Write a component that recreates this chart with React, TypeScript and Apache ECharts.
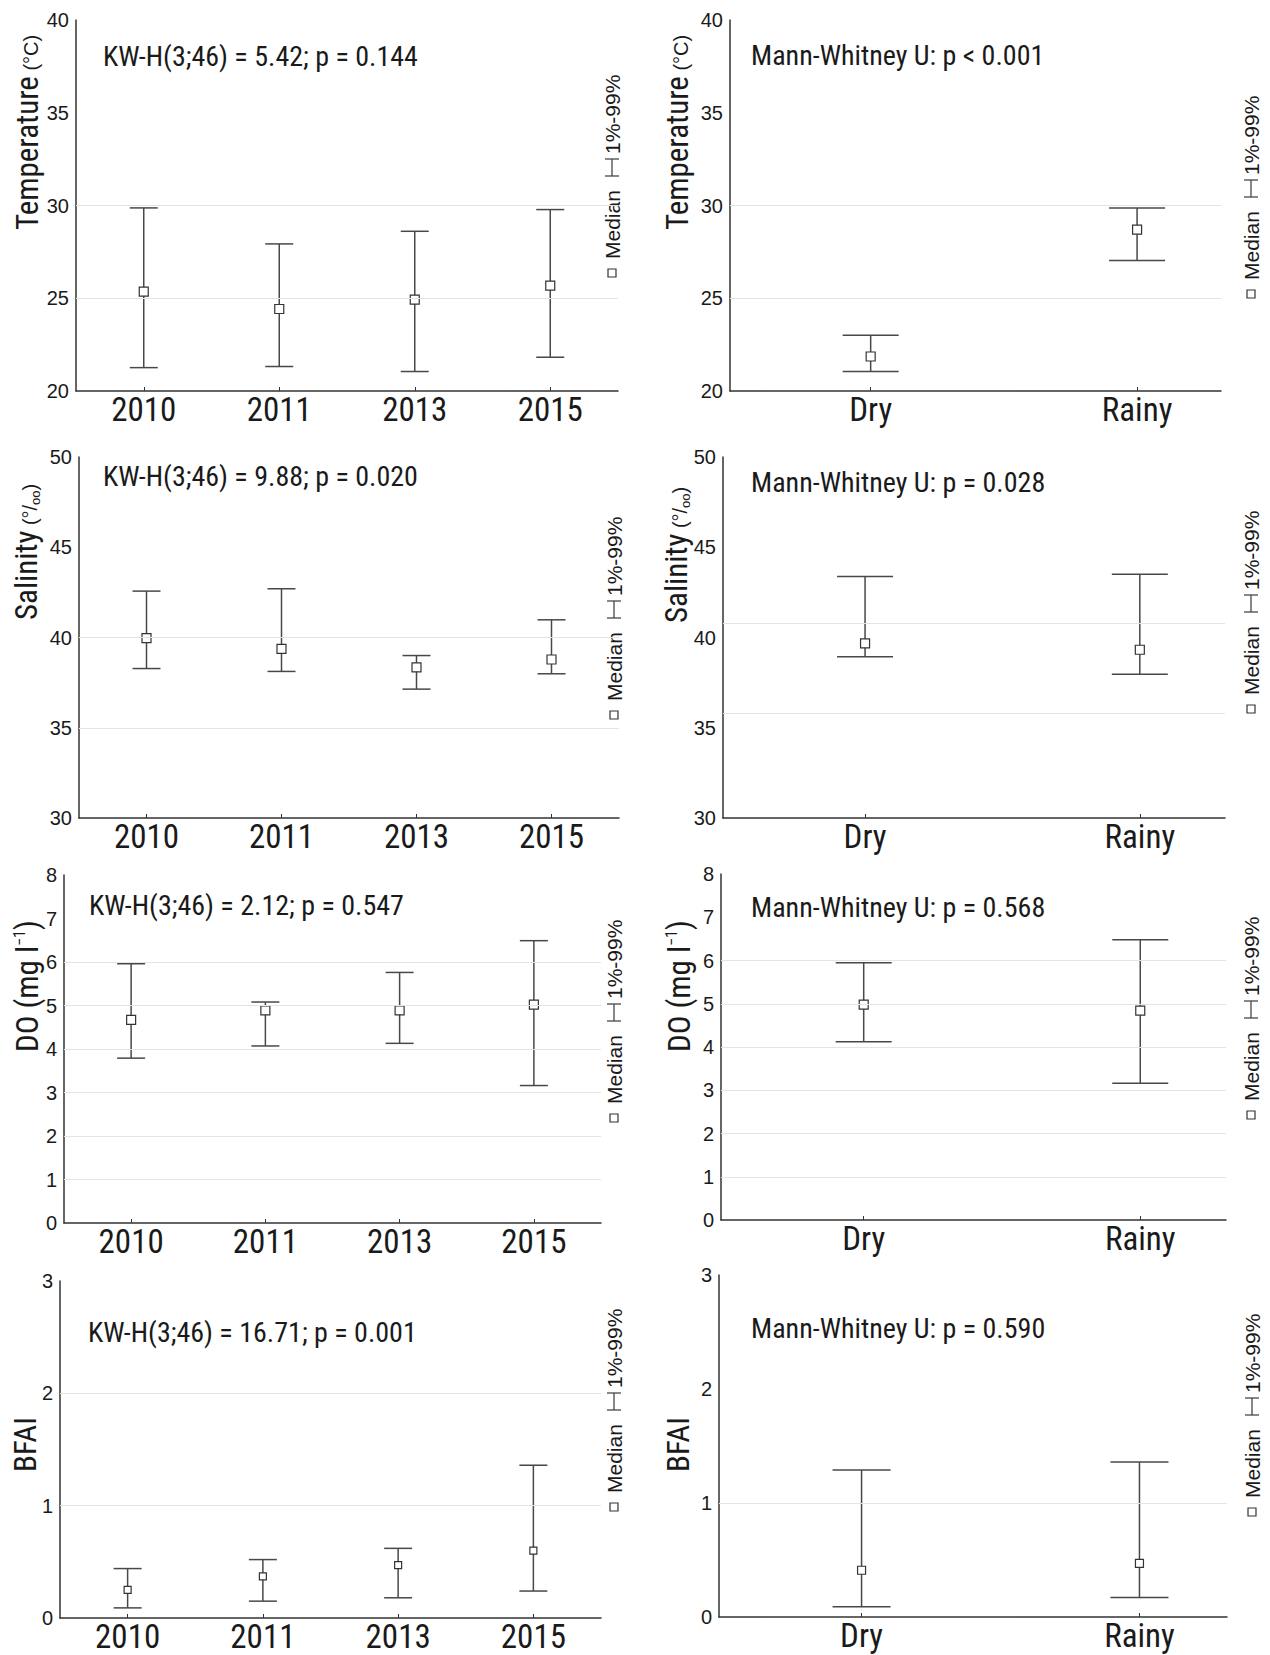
import React, { useEffect, useRef } from "react";
import * as echarts from "echarts";

// ---------- DATA ----------
const years = ["2010", "2011", "2013", "2015"];
const seasons = ["Dry", "Rainy"];

// Temperature (°C)
const tempYearMedian = [25.36, 24.42, 24.93, 25.68];
const tempYearLow = [21.26, 21.32, 21.05, 21.82];
const tempYearHigh = [29.87, 27.93, 28.61, 29.78];
const tempSeasonMedian = [21.86, 28.7];
const tempSeasonLow = [21.05, 27.03];
const tempSeasonHigh = [23.0, 29.87];

// Salinity (‰)
const salYearMedian = [39.96, 39.37, 38.35, 38.78];
const salYearLow = [38.28, 38.12, 37.14, 37.99];
const salYearHigh = [42.57, 42.7, 39.0, 40.98];
const salSeasonMedian = [39.67, 39.32];
const salSeasonLow = [38.94, 37.97];
const salSeasonHigh = [43.38, 43.5];

// DO (mg l-1)
const doYearMedian = [4.67, 4.89, 4.89, 5.02];
const doYearLow = [3.79, 4.07, 4.13, 3.16];
const doYearHigh = [5.96, 5.08, 5.76, 6.49];
const doSeasonMedian = [4.98, 4.84];
const doSeasonLow = [4.12, 3.16];
const doSeasonHigh = [5.95, 6.48];

// BFAI
const bfaiYearMedian = [0.25, 0.37, 0.47, 0.6];
const bfaiYearLow = [0.09, 0.15, 0.18, 0.24];
const bfaiYearHigh = [0.44, 0.52, 0.62, 1.36];
const bfaiSeasonMedian = [0.41, 0.47];
const bfaiSeasonLow = [0.09, 0.17];
const bfaiSeasonHigh = [1.29, 1.36];

// y-axis ranges [min, max, step]
const tempRange = [20, 40, 5];
const salRange = [30, 50, 5];
const doRange = [0, 8, 1];
const bfaiRange = [0, 3, 1];

// faint horizontal grid lines visible in each panel
const tempYearGridLines = [25, 30];
const tempSeasonGridLines = [25, 30];
const salYearGridLines = [35, 40];
const salSeasonGridLines = [35.8, 40.8];
const doYearGridLines = [1, 2, 3, 4, 5, 6];
const doSeasonGridLines = [1, 2, 3, 4, 5, 6];
const bfaiYearGridLines = [1, 2];
const bfaiSeasonGridLines = [1];

// statistics annotations
const statTexts = [
  "KW-H(3;46) = 5.42; p = 0.144",
  "Mann-Whitney U: p < 0.001",
  "KW-H(3;46) = 9.88; p = 0.020",
  "Mann-Whitney U: p = 0.028",
  "KW-H(3;46) = 2.12; p = 0.547",
  "Mann-Whitney U: p = 0.568",
  "KW-H(3;46) = 16.71; p = 0.001",
  "Mann-Whitney U: p = 0.590",
];

const legendMedian = "Median";
const legendRange = "1%-99%";

// ---------- STYLE / LAYOUT ----------
const FONT_NARROW =
  "'Liberation Sans Narrow', 'Arial Narrow', 'Roboto Condensed', 'DejaVu Sans Condensed', sans-serif";
const FONT_REG = "'Liberation Sans', Arial, Helvetica, sans-serif";
const INK = "#1a1a1a";
const AXIS = "#333333";
const BAR = "#484848";
const GRIDLINE = "#e4e4e4";

type Panel = {
  rect: { left: number; top: number; width: number; height: number };
  cats: string[];
  xMin: number;
  xMax: number;
  med: number[];
  low: number[];
  high: number[];
  range: number[];
  gridLines: number[];
  cap: number;
  sym: number;
  stat: { x: number; y: number };
  title: { x: number; y: number; text: string };
  legend: { x: number; s: number };
};

const titleRich = {
  a: { fontSize: 31, fontFamily: FONT_NARROW, color: INK, verticalAlign: "bottom" },
  u: { fontSize: 20, fontFamily: FONT_REG, color: INK, verticalAlign: "bottom", padding: [0, 0, 2, 0] },
  s: { fontSize: 13, fontFamily: FONT_REG, color: INK, verticalAlign: "bottom" },
  p: { fontSize: 16, fontFamily: FONT_NARROW, color: INK, verticalAlign: "top" },
};

const panels: Panel[] = [
  {
    rect: { left: 76, top: 20, width: 542, height: 371 },
    cats: years, xMin: 0.5, xMax: 4.5,
    med: tempYearMedian, low: tempYearLow, high: tempYearHigh,
    range: tempRange, gridLines: tempYearGridLines, cap: 28, sym: 9,
    stat: { x: 103, y: 56 },
    title: { x: 27, y: 230, text: "{a|Temperature}{u| (°C)}" },
    legend: { x: 612, s: 273 },
  },
  {
    rect: { left: 730, top: 20, width: 491, height: 371 },
    cats: seasons, xMin: 0.472, xMax: 2.315,
    med: tempSeasonMedian, low: tempSeasonLow, high: tempSeasonHigh,
    range: tempRange, gridLines: tempSeasonGridLines, cap: 56, sym: 9,
    stat: { x: 751, y: 55 },
    title: { x: 677, y: 230, text: "{a|Temperature}{u| (°C)}" },
    legend: { x: 1251, s: 294 },
  },
  {
    rect: { left: 79, top: 457, width: 540, height: 361 },
    cats: years, xMin: 0.5, xMax: 4.5,
    med: salYearMedian, low: salYearLow, high: salYearHigh,
    range: salRange, gridLines: salYearGridLines, cap: 28, sym: 9,
    stat: { x: 103, y: 476 },
    title: { x: 26, y: 620, text: "{a|Salinity}{u| (°/}{s|oo}{u|)}" },
    legend: { x: 614, s: 715 },
  },
  {
    rect: { left: 723, top: 457, width: 502, height: 361 },
    cats: seasons, xMin: 0.483, xMax: 2.31,
    med: salSeasonMedian, low: salSeasonLow, high: salSeasonHigh,
    range: salRange, gridLines: salSeasonGridLines, cap: 56, sym: 9,
    stat: { x: 751, y: 482 },
    title: { x: 676, y: 623, text: "{a|Salinity}{u| (°/}{s|oo}{u|)}" },
    legend: { x: 1251, s: 709 },
  },
  {
    rect: { left: 64, top: 875, width: 537, height: 348 },
    cats: years, xMin: 0.5, xMax: 4.5,
    med: doYearMedian, low: doYearLow, high: doYearHigh,
    range: doRange, gridLines: doYearGridLines, cap: 28, sym: 9,
    stat: { x: 89, y: 905 },
    title: { x: 27, y: 1052, text: "{a|DO (mg l}{p|−1}{a|)}" },
    legend: { x: 614, s: 1118 },
  },
  {
    rect: { left: 721, top: 874, width: 505, height: 346 },
    cats: seasons, xMin: 0.484, xMax: 2.31,
    med: doSeasonMedian, low: doSeasonLow, high: doSeasonHigh,
    range: doRange, gridLines: doSeasonGridLines, cap: 56, sym: 9,
    stat: { x: 751, y: 907 },
    title: { x: 679, y: 1052, text: "{a|DO (mg l}{p|−1}{a|)}" },
    legend: { x: 1251, s: 1115 },
  },
  {
    rect: { left: 60, top: 1281, width: 541, height: 337 },
    cats: years, xMin: 0.5, xMax: 4.5,
    med: bfaiYearMedian, low: bfaiYearLow, high: bfaiYearHigh,
    range: bfaiRange, gridLines: bfaiYearGridLines, cap: 28, sym: 7,
    stat: { x: 88, y: 1332 },
    title: { x: 25, y: 1472, text: "{a|BFAI}" },
    legend: { x: 614, s: 1507 },
  },
  {
    rect: { left: 719, top: 1275, width: 508, height: 342 },
    cats: seasons, xMin: 0.487, xMax: 2.315,
    med: bfaiSeasonMedian, low: bfaiSeasonLow, high: bfaiSeasonHigh,
    range: bfaiRange, gridLines: bfaiSeasonGridLines, cap: 58, sym: 8,
    stat: { x: 751, y: 1328 },
    title: { x: 678, y: 1472, text: "{a|BFAI}" },
    legend: { x: 1252, s: 1512 },
  },
];

function buildOption() {
  const grid = panels.map((p) => ({ ...p.rect, containLabel: false }));

  const xAxis = panels.map((p, i) => {
    const pos = p.cats.map((_, k) => k + 1);
    return {
      type: "value",
      gridIndex: i,
      min: p.xMin,
      max: p.xMax,
      axisLine: { show: true, onZero: false, lineStyle: { color: AXIS, width: 1.5 } },
      axisTick: { show: true, inside: true, length: 4, customValues: pos, lineStyle: { color: AXIS, width: 1 } },
      axisLabel: {
        show: true,
        customValues: pos,
        formatter: (v: number) => p.cats[Math.round(v) - 1] ?? "",
        fontSize: 33,
        fontFamily: FONT_NARROW,
        color: INK,
        margin: 2,
      },
      splitLine: { show: false },
    };
  });

  const yAxis = panels.map((p, i) => ({
    type: "value",
    gridIndex: i,
    min: p.range[0],
    max: p.range[1],
    interval: p.range[2],
    axisLine: { show: true, lineStyle: { color: AXIS, width: 1.5 } },
    axisTick: { show: false },
    axisLabel: { fontSize: 20, fontFamily: FONT_REG, color: INK, margin: 7 },
    splitLine: { show: false },
  }));

  const series: any[] = [];
  panels.forEach((p, i) => {
    const half = p.cap / 2;
    series.push({
      type: "custom",
      xAxisIndex: i,
      yAxisIndex: i,
      z: 2,
      silent: true,
      data: p.cats.map((_, k) => [k + 1, p.low[k], p.high[k]]),
      encode: { x: 0, y: [1, 2] },
      renderItem: (params: any, api: any) => {
        const x = api.value(0);
        const lo = api.coord([x, api.value(1)]);
        const hi = api.coord([x, api.value(2)]);
        const st = { stroke: BAR, lineWidth: 1.5 };
        return {
          type: "group",
          children: [
            { type: "line", shape: { x1: lo[0], y1: lo[1], x2: hi[0], y2: hi[1] }, style: st },
            { type: "line", shape: { x1: lo[0] - half, y1: lo[1], x2: lo[0] + half, y2: lo[1] }, style: st },
            { type: "line", shape: { x1: hi[0] - half, y1: hi[1], x2: hi[0] + half, y2: hi[1] }, style: st },
          ],
        };
      },
      markLine: {
        silent: true,
        symbol: ["none", "none"],
        label: { show: false },
        lineStyle: { color: GRIDLINE, width: 1, type: "solid" },
        emphasis: { disabled: true },
        data: p.gridLines.map((v) => ({ yAxis: v })),
      },
    });
    series.push({
      type: "scatter",
      xAxisIndex: i,
      yAxisIndex: i,
      z: 4,
      silent: true,
      symbol: "rect",
      symbolSize: p.sym,
      itemStyle: { color: "#ffffff", borderColor: AXIS, borderWidth: 1.2, opacity: 1 },
      data: p.cats.map((_, k) => [k + 1, p.med[k]]),
    });
  });

  const graphic: any[] = [];
  panels.forEach((p, i) => {
    graphic.push({
      type: "text",
      x: p.stat.x,
      y: p.stat.y,
      silent: true,
      style: {
        text: statTexts[i],
        fontSize: 28,
        fontFamily: FONT_NARROW,
        fill: INK,
        textAlign: "left",
        textVerticalAlign: "middle",
        align: "left",
        verticalAlign: "middle",
      },
    });
    graphic.push({
      type: "text",
      x: p.title.x,
      y: p.title.y,
      rotation: Math.PI / 2,
      silent: true,
      style: {
        text: p.title.text,
        rich: titleRich,
        fill: INK,
        textAlign: "left",
        textVerticalAlign: "middle",
        align: "left",
        verticalAlign: "middle",
      },
    });
    const lx = p.legend.x;
    const s = p.legend.s;
    const legStyle = { stroke: BAR, lineWidth: 1.3 };
    graphic.push({
      type: "group",
      silent: true,
      children: [
        { type: "rect", shape: { x: lx - 4, y: s - 4, width: 8, height: 8 }, style: { fill: "#fff", stroke: AXIS, lineWidth: 1.2 } },
        {
          type: "text", x: lx, y: s - 14, rotation: Math.PI / 2,
          style: { text: legendMedian, fontSize: 21, fontFamily: FONT_REG, fill: INK, textAlign: "left", textVerticalAlign: "middle", align: "left", verticalAlign: "middle" },
        },
        { type: "line", shape: { x1: lx, y1: s - 114, x2: lx, y2: s - 97 }, style: legStyle },
        { type: "line", shape: { x1: lx - 7, y1: s - 114, x2: lx + 7, y2: s - 114 }, style: legStyle },
        { type: "line", shape: { x1: lx - 7, y1: s - 97, x2: lx + 7, y2: s - 97 }, style: legStyle },
        {
          type: "text", x: lx, y: s - 119, rotation: Math.PI / 2,
          style: { text: legendRange, fontSize: 21, fontFamily: FONT_REG, fill: INK, textAlign: "left", textVerticalAlign: "middle", align: "left", verticalAlign: "middle" },
        },
      ],
    });
  });

  return {
    animation: false,
    backgroundColor: "#ffffff",
    grid,
    xAxis,
    yAxis,
    series,
    graphic,
  };
}

export default function App() {
  const ref = useRef<HTMLDivElement>(null);
  useEffect(() => {
    if (!ref.current) return;
    const chart = echarts.init(ref.current, undefined, { renderer: "svg" });
    chart.setOption(buildOption() as any);
    return () => chart.dispose();
  }, []);
  return (
    <div
      ref={ref}
      style={{ position: "absolute", left: 0, top: 0, width: 1270, height: 1655, background: "#fff" }}
    />
  );
}
